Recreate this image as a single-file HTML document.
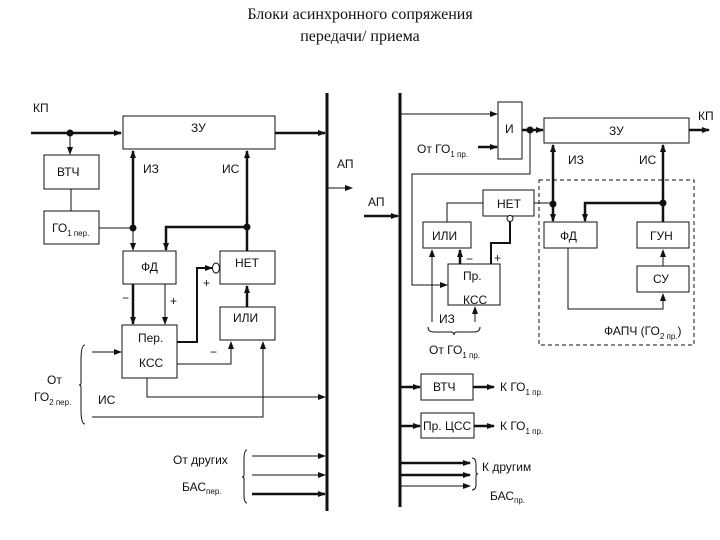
<!DOCTYPE html>
<html><head><meta charset="utf-8"><style>
body{margin:0;background:#fff}
svg{display:block}
text{font-family:"Liberation Sans",sans-serif;font-size:12px;fill:#111}
.t{font-family:"Liberation Serif",serif;font-size:16px}
.s{font-size:8px}
</style></head><body>
<svg width="720" height="540" viewBox="0 0 720 540" xmlns="http://www.w3.org/2000/svg">
<defs><marker id="a" markerWidth="8" markerHeight="6" refX="7" refY="3" orient="auto" markerUnits="userSpaceOnUse"><path d="M0,0L8,3L0,6z" fill="#111"/></marker></defs>
<text class="t" x="360" y="19" text-anchor="middle">Блоки асинхронного сопряжения</text>
<text class="t" x="360" y="41" text-anchor="middle">передачи/ приема</text>
<g stroke="#111" fill="none" stroke-width="1">
<!-- buses -->
<line x1="327" y1="93" x2="327" y2="511" stroke-width="3"/>
<line x1="400" y1="93" x2="400" y2="507" stroke-width="3"/>
<!-- left boxes -->
<rect x="123" y="116" width="152" height="33"/>
<rect x="44" y="155" width="55" height="34"/>
<rect x="44" y="211" width="55" height="33"/>
<rect x="123" y="251" width="53" height="33"/>
<rect x="220" y="251" width="55" height="33"/>
<rect x="220" y="307" width="55" height="33"/>
<rect x="122" y="325" width="55" height="53"/>
<!-- left lines -->
<line x1="31" y1="133" x2="121" y2="133" stroke-width="2.5" marker-end="url(#a)"/>
<line x1="275" y1="133" x2="325" y2="133" stroke-width="2.5" marker-end="url(#a)"/>
<line x1="327" y1="188" x2="352" y2="188" marker-end="url(#a)"/>
<line x1="70" y1="133" x2="70" y2="154" marker-end="url(#a)"/>
<line x1="71" y1="189" x2="71" y2="211"/>
<line x1="99" y1="228" x2="133" y2="228"/>
<line x1="133" y1="228" x2="133" y2="151" stroke-width="2.5" marker-end="url(#a)"/>
<line x1="133" y1="228" x2="133" y2="250" marker-end="url(#a)"/>
<line x1="247" y1="251" x2="247" y2="151" stroke-width="2.5" marker-end="url(#a)"/>
<polyline points="247,227 166,227 166,250" stroke-width="2.5" marker-end="url(#a)"/>
<line x1="133" y1="284" x2="133" y2="324" stroke-width="2.5" marker-end="url(#a)"/>
<line x1="165" y1="284" x2="165" y2="324" marker-end="url(#a)"/>
<polyline points="177,342 197,342 197,268 212,268" stroke-width="2" marker-end="url(#a)"/>
<ellipse cx="216" cy="268" rx="3.5" ry="5" fill="#fff"/>
<line x1="247" y1="307" x2="247" y2="286" stroke-width="2.5" marker-end="url(#a)"/>
<polyline points="177,364 231,364 231,342" marker-end="url(#a)"/>
<polyline points="147,378 147,397 325,397" marker-end="url(#a)"/>
<polyline points="92,417 263,417 263,342" marker-end="url(#a)"/>
<line x1="92" y1="352" x2="121" y2="352" marker-end="url(#a)"/>
<path d="M85,345 Q81,345 81,360 L81,383 Q81,385 79,385 Q81,385 81,387 L81,410 Q81,424 85,424"/>
<path d="M247,450 Q244,450 244,460 L244,475 Q244,477 242,477 Q244,477 244,479 L244,495 Q244,503 247,503"/>
<line x1="252" y1="456" x2="325" y2="456" marker-end="url(#a)"/>
<line x1="252" y1="475" x2="325" y2="475" marker-end="url(#a)"/>
<line x1="252" y1="494" x2="325" y2="494" stroke-width="2.5" marker-end="url(#a)"/>
<!-- right boxes -->
<rect x="498" y="102" width="24" height="57"/>
<rect x="544" y="118" width="145" height="25"/>
<rect x="483" y="190" width="51" height="26"/>
<rect x="423" y="222" width="48" height="26"/>
<rect x="448" y="264" width="52" height="41"/>
<rect x="544" y="222" width="53" height="26"/>
<rect x="637" y="222" width="52" height="26"/>
<rect x="637" y="266" width="52" height="26"/>
<rect x="421" y="374" width="52" height="26"/>
<rect x="421" y="413" width="53" height="25"/>
<rect x="539" y="180" width="155" height="165" stroke-dasharray="4,3"/>
<!-- right lines -->
<line x1="400" y1="114" x2="497" y2="114" marker-end="url(#a)"/>
<line x1="478" y1="147" x2="497" y2="147" stroke-width="2.5" marker-end="url(#a)"/>
<line x1="522" y1="130" x2="543" y2="130" stroke-width="2.5" marker-end="url(#a)"/>
<line x1="689" y1="130" x2="709" y2="130" stroke-width="2.5" marker-end="url(#a)"/>
<polyline points="530,130 530,174 412,174 412,285 447,285" marker-end="url(#a)"/>
<line x1="364" y1="216" x2="398" y2="216" stroke-width="2.5" marker-end="url(#a)"/>
<polyline points="447,222 447,203 483,203"/>
<line x1="534" y1="203" x2="553" y2="203"/>
<line x1="460" y1="264" x2="460" y2="250" stroke-width="2.5" marker-end="url(#a)"/>
<polyline points="491,264 491,243 510,243 510,222" stroke-width="2"/>
<circle cx="510" cy="218.5" r="3" fill="#fff"/>
<line x1="432" y1="322" x2="432" y2="250" marker-end="url(#a)"/>
<line x1="475" y1="322" x2="475" y2="307" marker-end="url(#a)"/>
<path d="M428,327 Q428,332 434,332 L451,332 Q454,332 454,335 Q454,332 457,332 L474,332 Q480,332 480,327"/>
<line x1="553" y1="204" x2="553" y2="145" stroke-width="2.5" marker-end="url(#a)"/>
<line x1="553" y1="204" x2="553" y2="221" stroke-width="2.5" marker-end="url(#a)"/>
<line x1="663" y1="222" x2="663" y2="145" stroke-width="2.5" marker-end="url(#a)"/>
<polyline points="663,203 585,203 585,221" stroke-width="2.5" marker-end="url(#a)"/>
<polyline points="568,248 568,309 663,309 663,294" marker-end="url(#a)"/>
<line x1="663" y1="266" x2="663" y2="250" marker-end="url(#a)"/>
<line x1="400" y1="387" x2="420" y2="387" stroke-width="2.5" marker-end="url(#a)"/>
<line x1="473" y1="387" x2="494" y2="387" stroke-width="2.5" marker-end="url(#a)"/>
<line x1="400" y1="426" x2="420" y2="426" stroke-width="2.5" marker-end="url(#a)"/>
<line x1="474" y1="426" x2="494" y2="426" stroke-width="2.5" marker-end="url(#a)"/>
<line x1="400" y1="463" x2="470" y2="463" stroke-width="2.5" marker-end="url(#a)"/>
<line x1="400" y1="475" x2="470" y2="475" stroke-width="2.5" marker-end="url(#a)"/>
<line x1="400" y1="486" x2="470" y2="486" marker-end="url(#a)"/>
<path d="M472,458 Q476,458 476,465 L476,472 Q476,474 478,474 Q476,474 476,476 L476,484 Q476,490 472,490"/>
</g>
<g fill="#111">
<circle cx="70" cy="133" r="3.5"/><circle cx="133" cy="228" r="3.5"/><circle cx="247" cy="227" r="3.5"/>
<circle cx="530" cy="130" r="3.5"/><circle cx="553" cy="204" r="3.5"/><circle cx="663" cy="203" r="3.5"/>
</g>
<text x="33" y="112">КП</text>
<text x="191" y="132">ЗУ</text>
<text x="57" y="176">ВТЧ</text>
<text x="52" y="232">ГО<tspan class="s" dy="4">1 пер.</tspan></text>
<text x="143" y="173">ИЗ</text>
<text x="222" y="173">ИС</text>
<text x="337" y="168">АП</text>
<text x="141" y="271">ФД</text>
<text x="235" y="267">НЕТ</text>
<text x="203" y="287">+</text>
<text x="122" y="302">−</text>
<text x="170" y="305">+</text>
<text x="233" y="322">ИЛИ</text>
<text x="138" y="342">Пер.</text>
<text x="139" y="367">КСС</text>
<text x="210" y="356">−</text>
<text x="47" y="384">От</text>
<text x="34" y="401">ГО<tspan class="s" dy="4">2 пер.</tspan></text>
<text x="98" y="404">ИС</text>
<text x="173" y="464">От других</text>
<text x="182" y="491">БАС<tspan class="s" dy="3">пер.</tspan></text>
<text x="505" y="133">И</text>
<text x="609" y="135">ЗУ</text>
<text x="698" y="120">КП</text>
<text x="417" y="153">От ГО<tspan class="s" dy="4">1 пр.</tspan></text>
<text x="568" y="164">ИЗ</text>
<text x="639" y="164">ИС</text>
<text x="368" y="206">АП</text>
<text x="497" y="208">НЕТ</text>
<text x="432" y="240">ИЛИ</text>
<text x="560" y="240">ФД</text>
<text x="650" y="240">ГУН</text>
<text x="653" y="283">СУ</text>
<text x="466" y="263">−</text>
<text x="494" y="262">+</text>
<text x="463" y="280">Пр.</text>
<text x="463" y="304">КСС</text>
<text x="439" y="323">ИЗ</text>
<text x="429" y="354">От ГО<tspan class="s" dy="4">1 пр.</tspan></text>
<text x="604" y="335">ФАПЧ (ГО<tspan class="s" dy="4">2 пр.</tspan><tspan dy="-4">)</tspan></text>
<text x="433" y="391">ВТЧ</text>
<text x="500" y="391">К ГО<tspan class="s" dy="4">1 пр.</tspan></text>
<text x="423" y="430">Пр. ЦСС</text>
<text x="500" y="430">К ГО<tspan class="s" dy="4">1 пр.</tspan></text>
<text x="482" y="471">К другим</text>
<text x="490" y="500">БАС<tspan class="s" dy="3">пр.</tspan></text>
</svg>
</body></html>
